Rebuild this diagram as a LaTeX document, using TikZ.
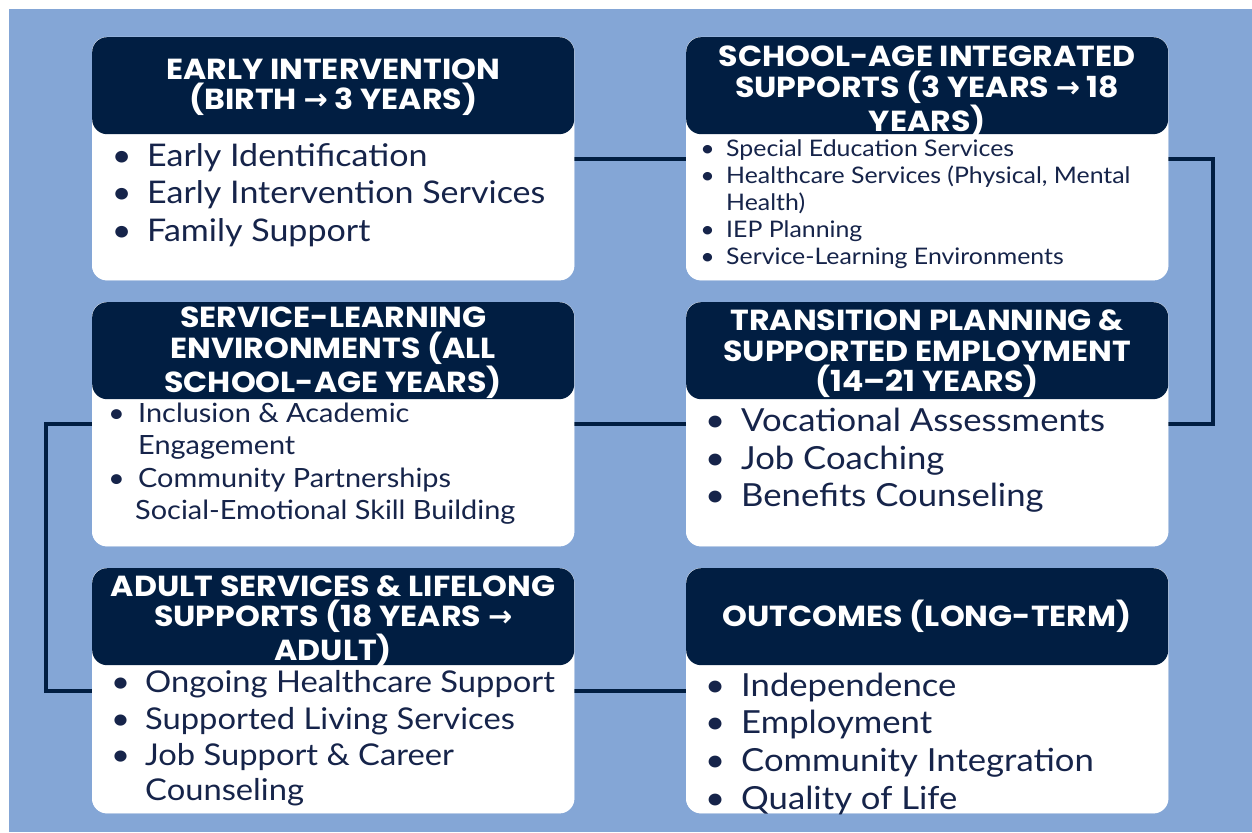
\documentclass[tikz,border=0pt]{standalone}
\usepackage{fontspec}
\setmainfont[FakeStretch=1.09]{Lato}
\newfontfamily\hfont[FakeStretch=1.09]{Poppins}
\newfontfamily\symf{DejaVu Sans}
\definecolor{bg}{RGB}{132,166,214}
\definecolor{navy}{RGB}{1,30,66}
\definecolor{txtc}{RGB}{22,36,74}
\newcommand\arr{{\symf\bfseries →}}
\newcommand\bul{\llap{\textbullet\hspace{0.5em}}}
\begin{document}
\begin{tikzpicture}[x=1pt,y=-1pt,
  card/.style={fill=white, rounded corners=15pt, minimum width=482pt, anchor=north west, inner sep=0pt},
  hdr/.style={fill=navy, rounded corners=15pt, minimum width=482pt, minimum height=97pt, anchor=north, inner sep=0pt},
  htxt/.style={text=white, align=center, inner sep=0pt, font=\hfont\bfseries\fontsize{29}{30.5}\selectfont},
  conn/.style={draw=navy, line width=4pt},
  li/.style={anchor=base west, inner sep=0pt, text=txtc},
  s22/.style={font=\fontsize{22.8}{26}\selectfont},
  s25/.style={font=\fontsize{26.5}{30}\selectfont},
  s29/.style={font=\fontsize{30}{36}\selectfont},
  s30/.style={font=\fontsize{31.2}{36}\selectfont},
  s31/.style={font=\fontsize{31.8}{37}\selectfont}]
\useasboundingbox (0,0) rectangle (1252,832);
\fill[white] (0,0) rectangle (1252,832);
\fill[bg] (9,9) rectangle (1252,832);

% cards (shapes used for connectors)
\node[card, minimum height=243pt] (b1) at (92,37) {};
\node[card, minimum height=243pt] (b2) at (686,37) {};
\node[card, minimum height=244pt] (b3) at (92,302) {};
\node[card, minimum height=244pt] (b4) at (686,302) {};
\node[card, minimum height=245pt] (b5) at (92,568) {};
\node[card, minimum height=245pt] (b6) at (686,568) {};

% connectors
\draw[conn] (b1.center) -- (b2.center);
\draw[conn] (b2.center) -- (b2.east) -- ++(45,0) |- (b4.east) -- (b4.center);
\draw[conn] (b4.center) -- (b3.center);
\draw[conn] (b3.center) -- (b3.west) -- ++(-46,0) |- (b5.west) -- (b5.center);
\draw[conn] (b5.center) -- (b6.center);

% redraw cards on top of connectors
\foreach \b in {b1,b2,b3,b4,b5,b6}{
  \fill[white, rounded corners=15pt] (\b.north west) rectangle (\b.south east);
}

% headers
\node[hdr, fill=navy] (h1) at (b1.north) {};
\node[htxt] (x1) at ([yshift=-1.5pt]h1.center) {EARLY INTERVENTION\\(BIRTH \arr{} 3 YEARS)};
\node[hdr, fill=navy] (h2) at (b2.north) {};
\node[htxt] (x2) at ([yshift=-6pt]h2.center) {SCHOOL-AGE INTEGRATED\\SUPPORTS (3 YEARS \arr{} 18\\YEARS)};
\node[hdr, fill=navy] (h3) at (b3.north) {};
\node[htxt] (x3) at ([yshift=-2pt]h3.center) {SERVICE-LEARNING\\ENVIRONMENTS (ALL\\SCHOOL-AGE YEARS)};
\node[hdr, fill=navy] (h4) at (b4.north) {};
\node[htxt] (x4) at ([yshift=-3pt]h4.center) {TRANSITION PLANNING \&\\SUPPORTED EMPLOYMENT\\(14–21 YEARS)};
\node[hdr, fill=navy] (h5) at (b5.north) {};
\node[htxt] (x5) at ([yshift=-4pt]h5.center) {ADULT SERVICES \& LIFELONG\\SUPPORTS (18 YEARS \arr\\ADULT)};
\node[hdr, fill=navy] (h6) at (b6.north) {};
\node[htxt] (x6) at (h6.center) {OUTCOMES (LONG-TERM)};

% card 1
\node[li,s30] (t1a) at (147,166) {\bul Early Identification};
\node[li,s30] (t1b) at (147,203) {\bul Early Intervention Services};
\node[li,s30] (t1c) at (147,241) {\bul Family Support};
% card 2
\node[li,s22] (t2a) at (726,156.5) {\bul Special Education Services};
\node[li,s22] (t2b) at (726,183.5) {\bul Healthcare Services (Physical, Mental};
\node[li,s22] (t2c) at (726,210.5) {Health)};
\node[li,s22] (t2d) at (726,237.5) {\bul IEP Planning};
\node[li,s22] (t2e) at (726,264.5) {\bul Service-Learning Environments};
% card 3
\node[li,s25] (t3a) at (138,422.5) {\bul Inclusion \& Academic};
\node[li,s25] (t3b) at (138,454.5) {Engagement};
\node[li,s25] (t3c) at (138,487.5) {\bul Community Partnerships};
\node[li,s25] (t3d) at (135,519.5) {Social-Emotional Skill Building};
% card 4
\node[li,s31] (t4a) at (741,431.5) {\bul Vocational Assessments};
\node[li,s31] (t4b) at (741,469.5) {\bul Job Coaching};
\node[li,s31] (t4c) at (741,506.5) {\bul Benefits Counseling};
% card 5
\node[li,s29] (t5a) at (145,692) {\bul Ongoing Healthcare Support};
\node[li,s29] (t5b) at (145,729) {\bul Supported Living Services};
\node[li,s29] (t5c) at (145,765) {\bul Job Support \& Career};
\node[li,s29] (t5d) at (145,800) {Counseling};
% card 6
\node[li,s31] (t6a) at (741,696.5) {\bul Independence};
\node[li,s31] (t6b) at (741,733.5) {\bul Employment};
\node[li,s31] (t6c) at (741,771.5) {\bul Community Integration};
\node[li,s31] (t6d) at (741,809.5) {\bul Quality of Life};
\end{tikzpicture}
\end{document}
